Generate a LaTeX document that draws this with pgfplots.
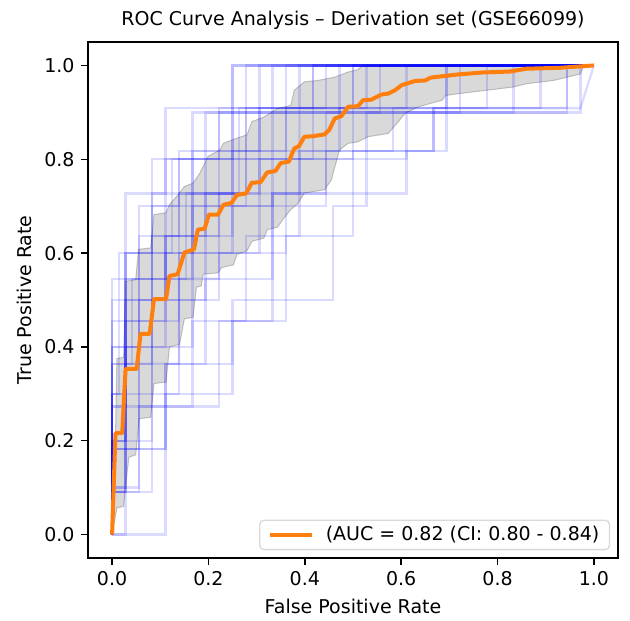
\documentclass[border=0pt]{standalone}
\usepackage{pgfplots}
\pgfplotsset{compat=1.18}
\usepgfplotslibrary{fillbetween}
\usepackage{fontspec}
\setmainfont{DejaVu Sans}
\definecolor{mplorange}{RGB}{255,127,14}
\begin{document}
\fontsize{19pt}{23pt}\selectfont
\begin{tikzpicture}
\begin{axis}[
  scale only axis, width=530pt, height=516pt,
  xmin=-0.05, xmax=1.05, ymin=-0.05, ymax=1.05,
  xtick={0,0.2,0.4,0.6,0.8,1.0}, ytick={0,0.2,0.4,0.6,0.8,1.0},
  xticklabel style={/pgf/number format/.cd,fixed,fixed zerofill,precision=1,assume math mode=true},
  yticklabel style={/pgf/number format/.cd,fixed,fixed zerofill,precision=1,assume math mode=true},
  tick pos=left, tick align=outside, major tick length=7pt,
  every tick/.style={black, line width=1.5pt},
  axis line style={line width=1.5pt},
  ticklabel style={font=\fontsize{19pt}{23pt}\selectfont},
  xlabel={False Positive Rate}, ylabel={True Positive Rate},
  label style={font=\fontsize{19pt}{23pt}\selectfont},
  title={ROC Curve Analysis – Derivation set (GSE66099)},
  title style={font=\fontsize{19pt}{23pt}\selectfont, yshift=0pt},
  legend style={at={(0.985,0.015)}, anchor=south east, draw=black!15, line width=1.3pt, rounded corners=4pt, font=\fontsize{19pt}{23pt}\selectfont, inner xsep=8pt, inner ysep=4pt},
  legend image code/.code={\draw[#1] (0pt,0pt) -- (42pt,0pt); \path (52pt,0pt);},
  legend cell align=left,
  boot/.style={blue, draw opacity=0.14, line width=2.3pt, forget plot},
]
% std band
\addplot[name path=up, draw=gray, draw opacity=0.45, line width=1pt, forget plot] coordinates {(0,0)(0.007,0.2)(0.01,0.375)(0.024,0.378)(0.028,0.54)(0.049,0.543)(0.055,0.608)(0.08,0.611)(0.087,0.682)(0.112,0.686)(0.119,0.703)(0.14,0.728)(0.15,0.742)(0.168,0.749)(0.182,0.77)(0.199,0.806)(0.224,0.82)(0.231,0.834)(0.259,0.845)(0.28,0.852)(0.29,0.88)(0.315,0.89)(0.343,0.908)(0.371,0.915)(0.378,0.947)(0.399,0.965)(0.427,0.968)(0.462,0.975)(0.49,0.986)(0.51,0.991)(0.52,1)(1,1)};
\addplot[name path=lo, draw=gray, draw opacity=0.45, line width=1pt, forget plot] coordinates {(0,0)(0.01,0.057)(0.024,0.06)(0.028,0.106)(0.035,0.165)(0.049,0.17)(0.056,0.247)(0.08,0.25)(0.087,0.322)(0.112,0.325)(0.119,0.40)(0.14,0.405)(0.15,0.46)(0.168,0.463)(0.175,0.527)(0.185,0.53)(0.189,0.555)(0.22,0.558)(0.227,0.569)(0.252,0.575)(0.259,0.597)(0.28,0.605)(0.29,0.625)(0.315,0.632)(0.322,0.65)(0.343,0.655)(0.357,0.675)(0.371,0.693)(0.385,0.705)(0.399,0.728)(0.441,0.735)(0.455,0.756)(0.472,0.82)(0.49,0.834)(0.51,0.837)(0.531,0.848)(0.573,0.855)(0.594,0.88)(0.608,0.898)(0.636,0.912)(0.685,0.926)(0.692,0.936)(0.72,0.94)(0.776,0.947)(0.832,0.954)(0.86,0.961)(0.916,0.968)(0.944,0.975)(0.972,0.982)(0.979,0.998)(1,1)};
\addplot[fill=gray, fill opacity=0.3, draw=none, forget plot] fill between[of=up and lo];
% bootstrap ROC curves
\addplot[boot] coordinates {(0,0)(0,0.3)(0.028,0.3)(0.028,0.5)(0.083,0.5)(0.083,0.7)(0.194,0.7)(0.194,0.8)(0.361,0.8)(0.361,1.0)(1,1)};
\addplot[boot] coordinates {(0,0)(0,0.182)(0.056,0.182)(0.056,0.455)(0.111,0.455)(0.111,0.636)(0.25,0.636)(0.25,0.818)(0.472,0.818)(0.472,0.909)(0.694,0.909)(0.694,1)(1,1)};
\addplot[boot] coordinates {(0,0)(0,0.4)(0.028,0.4)(0.028,0.6)(0.167,0.6)(0.167,0.9)(0.417,0.9)(0.417,1)(1,1)};
\addplot[boot] coordinates {(0,0)(0,0.091)(0.028,0.091)(0.028,0.364)(0.139,0.364)(0.139,0.545)(0.222,0.545)(0.222,0.727)(0.389,0.727)(0.389,0.909)(0.972,0.909)(1,1)};
\addplot[boot] coordinates {(0,0)(0,0.2)(0.083,0.2)(0.083,0.5)(0.139,0.5)(0.139,0.6)(0.306,0.6)(0.306,0.8)(0.5,0.8)(0.5,1)(1,1)};
\addplot[boot] coordinates {(0,0)(0,0.273)(0.028,0.273)(0.028,0.545)(0.083,0.545)(0.083,0.727)(0.167,0.727)(0.167,0.818)(0.306,0.818)(0.306,1)(1,1)};
\addplot[boot] coordinates {(0,0)(0,0.1)(0.028,0.1)(0.028,0.4)(0.111,0.4)(0.111,0.6)(0.25,0.6)(0.25,0.7)(0.444,0.7)(0.444,0.9)(0.833,0.9)(0.833,1)(1,1)};
\addplot[boot] coordinates {(0,0)(0,0.455)(0.056,0.455)(0.056,0.636)(0.139,0.636)(0.139,0.818)(0.222,0.818)(0.222,0.909)(0.389,0.909)(0.389,1)(1,1)};
\addplot[boot] coordinates {(0,0)(0,0.3)(0.056,0.3)(0.056,0.5)(0.194,0.5)(0.194,0.7)(0.333,0.7)(0.333,0.9)(0.556,0.9)(0.556,1)(1,1)};
\addplot[boot] coordinates {(0,0)(0,0.182)(0.028,0.182)(0.028,0.364)(0.083,0.364)(0.083,0.636)(0.194,0.636)(0.194,0.727)(0.278,0.727)(0.278,0.909)(0.611,0.909)(0.611,1)(1,1)};
\addplot[boot] coordinates {(0,0)(0,0.2)(0.028,0.2)(0.028,0.5)(0.111,0.5)(0.111,0.8)(0.222,0.8)(0.222,0.9)(0.472,0.9)(0.472,1)(1,1)};
\addplot[boot] coordinates {(0,0)(0,0.091)(0.056,0.091)(0.056,0.273)(0.167,0.273)(0.167,0.455)(0.278,0.455)(0.278,0.636)(0.389,0.636)(0.389,0.818)(0.583,0.818)(0.583,0.909)(0.889,0.909)(0.889,1)(1,1)};
\addplot[boot] coordinates {(0,0)(0,0.4)(0.056,0.4)(0.056,0.7)(0.139,0.7)(0.139,0.8)(0.25,0.8)(0.25,1)(1,1)};
\addplot[boot] coordinates {(0,0)(0,0.364)(0.028,0.364)(0.028,0.545)(0.111,0.545)(0.111,0.636)(0.222,0.636)(0.222,0.818)(0.361,0.818)(0.361,0.909)(0.528,0.909)(0.528,1)(1,1)};
\addplot[boot] coordinates {(0,0)(0,0.1)(0.056,0.1)(0.056,0.3)(0.139,0.3)(0.139,0.5)(0.222,0.5)(0.222,0.6)(0.361,0.6)(0.361,0.8)(0.611,0.8)(0.611,0.9)(0.972,0.9)(0.972,1)(1,1)};
\addplot[boot] coordinates {(0,0)(0,0.273)(0.083,0.273)(0.083,0.455)(0.139,0.455)(0.139,0.727)(0.306,0.727)(0.306,0.909)(0.417,0.909)(0.417,1)(1,1)};
\addplot[boot] coordinates {(0,0)(0,0.5)(0.028,0.5)(0.028,0.6)(0.083,0.6)(0.083,0.8)(0.194,0.8)(0.194,0.9)(0.333,0.9)(0.333,1)(1,1)};
\addplot[boot] coordinates {(0,0)(0,0.182)(0.111,0.182)(0.111,0.364)(0.194,0.364)(0.194,0.545)(0.333,0.545)(0.333,0.727)(0.444,0.727)(0.444,0.818)(0.667,0.818)(0.667,0.909)(0.778,0.909)(0.778,1)(1,1)};
\addplot[boot] coordinates {(0,0)(0,0.2)(0.028,0.2)(0.028,0.4)(0.167,0.4)(0.167,0.7)(0.278,0.7)(0.278,0.8)(0.417,0.8)(0.417,0.9)(0.722,0.9)(0.722,1)(1,1)};
\addplot[boot] coordinates {(0,0)(0,0.091)(0.028,0.091)(0.028,0.455)(0.083,0.455)(0.083,0.545)(0.167,0.545)(0.167,0.727)(0.25,0.727)(0.25,0.909)(0.5,0.909)(0.5,1)(1,1)};
\addplot[boot] coordinates {(0,0)(0.028,0)(0.028,0.182)(0.111,0.182)(0.111,0.364)(0.25,0.364)(0.25,0.455)(0.361,0.455)(0.361,0.636)(0.5,0.636)(0.5,0.818)(0.667,0.818)(0.667,0.909)(0.944,0.909)(0.944,1)(1,1)};
\addplot[boot] coordinates {(0,0)(0.111,0)(0.111,0.3)(0.25,0.3)(0.25,0.5)(0.458,0.5)(0.458,0.7)(0.528,0.7)(0.528,0.9)(0.944,0.9)(0.944,1)(1,1)};
\addplot[boot] coordinates {(0,0)(0,0.091)(0.083,0.091)(0.083,0.273)(0.222,0.273)(0.222,0.455)(0.333,0.455)(0.333,0.727)(0.611,0.727)(0.611,0.818)(0.694,0.818)(0.694,1)(1,1)};
\addplot[boot] coordinates {(0,0)(0,0.545)(0.028,0.545)(0.028,0.727)(0.111,0.727)(0.111,0.909)(0.25,0.909)(0.25,1)(1,1)};
\addplot[boot] coordinates {(0,0)(0,0.3)(0.014,0.3)(0.014,0.6)(0.125,0.6)(0.125,0.8)(0.278,0.8)(0.278,1)(1,1)};
\addplot[boot] coordinates {(0,0)(0,0.364)(0.042,0.364)(0.042,0.545)(0.153,0.545)(0.153,0.727)(0.264,0.727)(0.264,0.909)(0.444,0.909)(0.444,1)(1,1)};
% mean ROC
\addplot[mplorange, line width=4pt, line join=round] coordinates {(0,0)(0.007,0.216)(0.021,0.216)(0.028,0.353)(0.051,0.353)(0.059,0.428)(0.078,0.428)(0.087,0.502)(0.112,0.502)(0.119,0.551)(0.136,0.555)(0.150,0.601)(0.170,0.608)(0.178,0.650)(0.192,0.652)(0.201,0.682)(0.220,0.682)(0.231,0.703)(0.248,0.707)(0.259,0.724)(0.278,0.727)(0.290,0.750)(0.308,0.751)(0.322,0.772)(0.339,0.775)(0.350,0.792)(0.367,0.795)(0.378,0.823)(0.388,0.828)(0.399,0.848)(0.416,0.849)(0.441,0.853)(0.451,0.863)(0.462,0.887)(0.476,0.892)(0.490,0.912)(0.510,0.913)(0.521,0.926)(0.538,0.927)(0.559,0.938)(0.573,0.940)(0.587,0.947)(0.601,0.958)(0.629,0.967)(0.650,0.968)(0.661,0.974)(0.685,0.977)(0.720,0.981)(0.769,0.985)(0.825,0.987)(0.860,0.993)(0.930,0.995)(0.972,0.998)(1.0,1.0)};
\addlegendentry{(AUC = 0.82 (CI: 0.80 - 0.84)}
\end{axis}
\pgfresetboundingbox
\path ([xshift=-88pt,yshift=-63pt]current axis.south west) rectangle ([xshift=12pt,yshift=42pt]current axis.north east);
\end{tikzpicture}
\end{document}
